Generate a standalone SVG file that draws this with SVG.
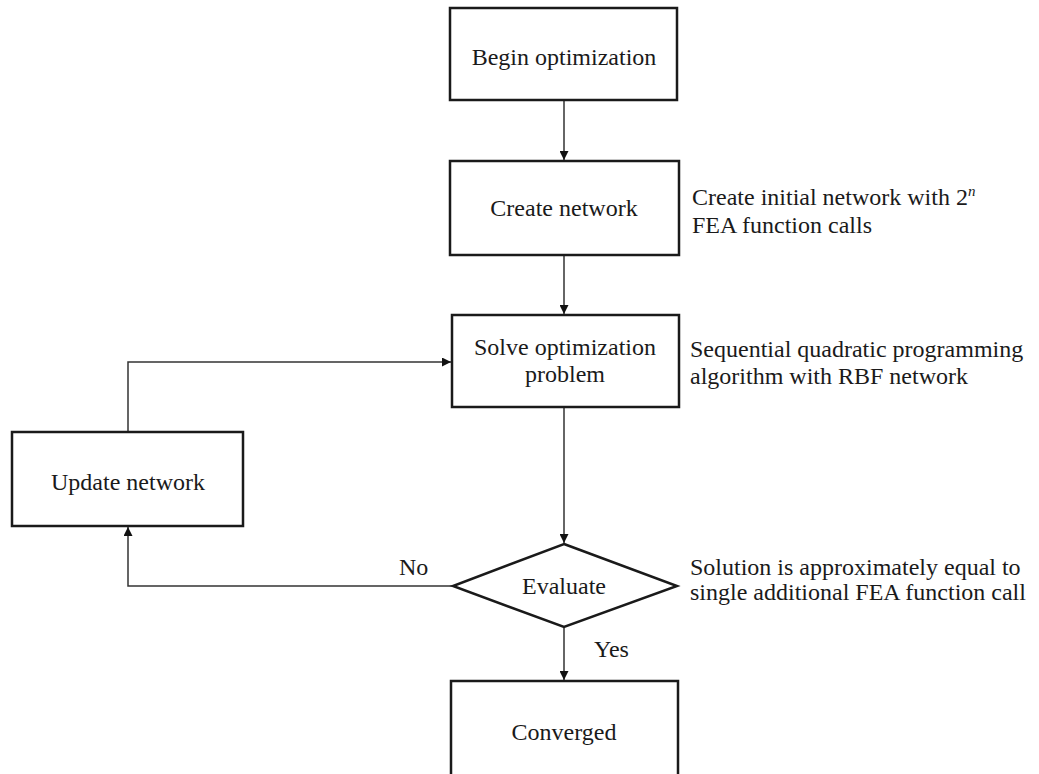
<svg xmlns="http://www.w3.org/2000/svg" width="1039" height="774" viewBox="0 0 1039 774">
<defs>
<style>
.box{fill:#fff;stroke:#1a1a1a;stroke-width:2.5}
.t{font-family:"Liberation Serif","Times New Roman",serif;font-size:24px;fill:#1a1a1a}
.c{text-anchor:middle}
.ln{fill:none;stroke:#333;stroke-width:1.5}
</style>
<marker id="ah" viewBox="0 0 10 10" refX="10" refY="5" markerWidth="10" markerHeight="9" markerUnits="userSpaceOnUse" orient="auto">
<path d="M0,0 L10,5 L0,10 z" fill="#111"/>
</marker>
</defs>
<rect width="1039" height="774" fill="#fff"/>
<g id="connectors">
<line class="ln" x1="564" y1="100" x2="564" y2="160" marker-end="url(#ah)"/>
<line class="ln" x1="564" y1="256" x2="564" y2="314" marker-end="url(#ah)"/>
<line class="ln" x1="564" y1="408" x2="564" y2="543" marker-end="url(#ah)"/>
<line class="ln" x1="564" y1="628" x2="564" y2="680" marker-end="url(#ah)"/>
<polyline class="ln" points="453,586 128,586 128,527" marker-end="url(#ah)"/>
<polyline class="ln" points="128,432 128,362 451,362" marker-end="url(#ah)"/>
<text class="t" x="399" y="575">No</text>
<text class="t" x="594" y="657">Yes</text>
</g>
<g id="begin">
<rect class="box" x="450" y="8" width="227" height="92"/>
<text class="t c" x="564" y="65">Begin optimization</text>
</g>
<g id="create">
<rect class="box" x="450" y="161" width="229" height="94"/>
<text class="t c" x="564" y="216">Create network</text>
</g>
<g id="create-note">
<text class="t" x="692" y="205">Create initial network with 2<tspan font-style="italic" font-size="15" dy="-9">n</tspan></text>
<text class="t" x="692" y="233">FEA function calls</text>
</g>
<g id="solve">
<rect class="box" x="452" y="315" width="227" height="92"/>
<text class="t c" x="565" y="355">Solve optimization</text>
<text class="t c" x="565" y="382">problem</text>
</g>
<g id="solve-note">
<text class="t" x="690" y="357">Sequential quadratic programming</text>
<text class="t" x="690" y="384">algorithm with RBF network</text>
</g>
<g id="update">
<rect class="box" x="12" y="432" width="231" height="94"/>
<text class="t c" x="128" y="490">Update network</text>
</g>
<g id="evaluate">
<polygon class="box" points="564,544 677,586 564,627 453,586"/>
<text class="t c" x="564" y="594">Evaluate</text>
</g>
<g id="evaluate-note">
<text class="t" x="690" y="575">Solution is approximately equal to</text>
<text class="t" x="690" y="600">single additional FEA function call</text>
</g>
<g id="converged">
<rect class="box" x="451" y="681" width="227" height="100"/>
<text class="t c" x="564" y="740">Converged</text>
</g>
</svg>
